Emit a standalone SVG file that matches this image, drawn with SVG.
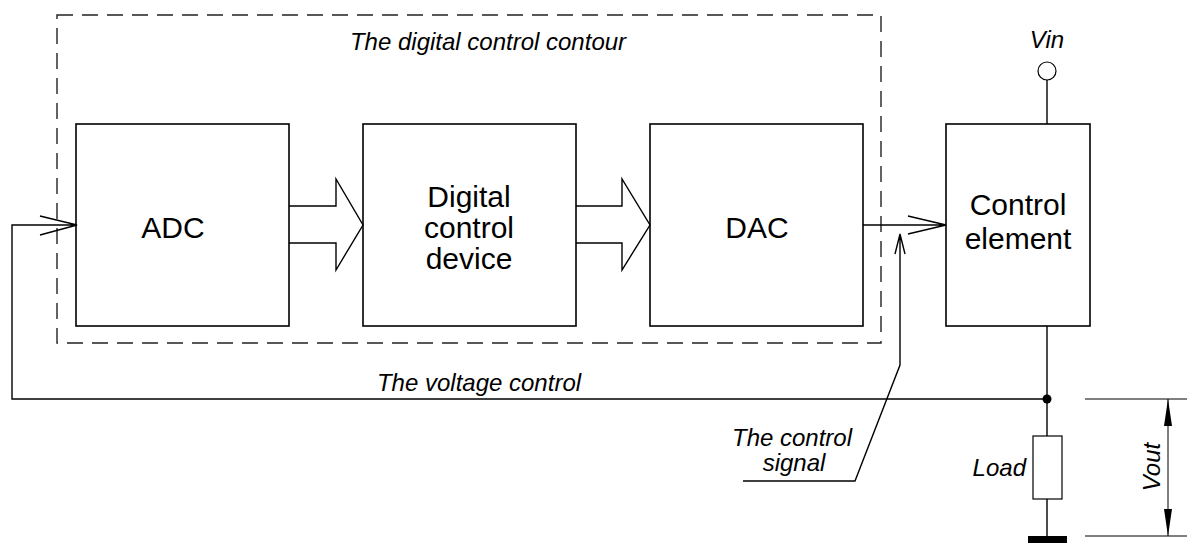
<svg xmlns="http://www.w3.org/2000/svg" width="1187" height="543" viewBox="0 0 1187 543">
  <style>
    .box { fill: #fff; stroke: #000; stroke-width: 1.6; }
    .wire { fill: none; stroke: #000; stroke-width: 1.4; }
    .thin { fill: none; stroke: #000; stroke-width: 1; }
    .lbl { font-family: "Liberation Sans", Arial, sans-serif; font-size: 30px; fill: #000; text-anchor: middle; }
    .it { font-family: "Liberation Sans", Arial, sans-serif; font-size: 24px; font-style: italic; fill: #000; }
  </style>
  <rect width="1187" height="543" fill="#fff"/>

  <!-- digital control contour -->
  <g id="contour">
    <rect x="57" y="15" width="824" height="328" fill="none" stroke="#222" stroke-width="1.4" stroke-dasharray="16,9"/>
    <text class="it" x="488" y="50" text-anchor="middle" font-size="25">The digital control contour</text>
  </g>

  <g id="adc">
    <rect class="box" x="76" y="124" width="213" height="202"/>
    <text class="lbl" x="173" y="238">ADC</text>
  </g>

  <g id="dcd">
    <rect class="box" x="363" y="124" width="213" height="202"/>
    <text class="lbl" x="469" y="207">Digital</text>
    <text class="lbl" x="469" y="238">control</text>
    <text class="lbl" x="469" y="269">device</text>
  </g>

  <g id="dac">
    <rect class="box" x="650" y="124" width="213" height="202"/>
    <text class="lbl" x="757" y="238">DAC</text>
  </g>

  <g id="control-element">
    <rect class="box" x="946" y="124" width="144" height="202"/>
    <text class="lbl" x="1018" y="215">Control</text>
    <text class="lbl" x="1018" y="249">element</text>
  </g>

  <g id="vin">
    <circle cx="1047" cy="71" r="9" fill="#fff" stroke="#000" stroke-width="1.2"/>
    <text class="it" x="1047" y="48" text-anchor="middle" font-size="20">Vin</text>
  </g>

  <g id="load">
    <rect x="1033" y="436" width="29" height="63" fill="#fff" stroke="#000" stroke-width="1.2"/>
    <text class="it" x="1026" y="476" text-anchor="end">Load</text>
    <rect x="1028" y="536" width="39" height="7" fill="#000"/>
  </g>

  <g id="connectors">
    <!-- bus arrows -->
    <path class="wire" d="M289,206 H336 V179 L363,225 L336,270 V243 H289"/>
    <path class="wire" d="M576,206 H622 V179 L650,225 L622,270 V243 H576"/>
    <!-- DAC to control element -->
    <path class="wire" d="M863,225 H946 M908,216 L946,225 L908,234"/>
    <!-- supply -->
    <path class="wire" d="M1047,80 V124"/>
    <!-- output to load -->
    <path class="wire" d="M1047,326 V436 M1047,499 V536"/>
    <circle cx="1047" cy="399" r="4.5" fill="#000"/>
    <!-- voltage feedback -->
    <path class="wire" d="M1047,399 H12 V225 H77 M40,216 L77,225 L40,235"/>
    <text class="it" x="479" y="391" text-anchor="middle" font-size="25">The voltage control</text>
    <!-- control signal leader -->
    <path class="wire" d="M743,481 H855 L900,365 V234 M895,254 L900,234 L905,254"/>
    <text class="it" x="792" y="446" text-anchor="middle">The control</text>
    <text class="it" x="794" y="471" text-anchor="middle">signal</text>
    <!-- Vout dimension -->
    <path class="thin" d="M1085,399 H1187 M1085,536 H1187 M1168,399 V536"/>
    <path d="M1168,399 L1164,426 L1172,426 Z M1168,536 L1164,509 L1172,509 Z" fill="#000"/>
    <text class="it" x="1160" y="467" text-anchor="middle" transform="rotate(-90 1160 467)">Vout</text>
  </g>
</svg>
